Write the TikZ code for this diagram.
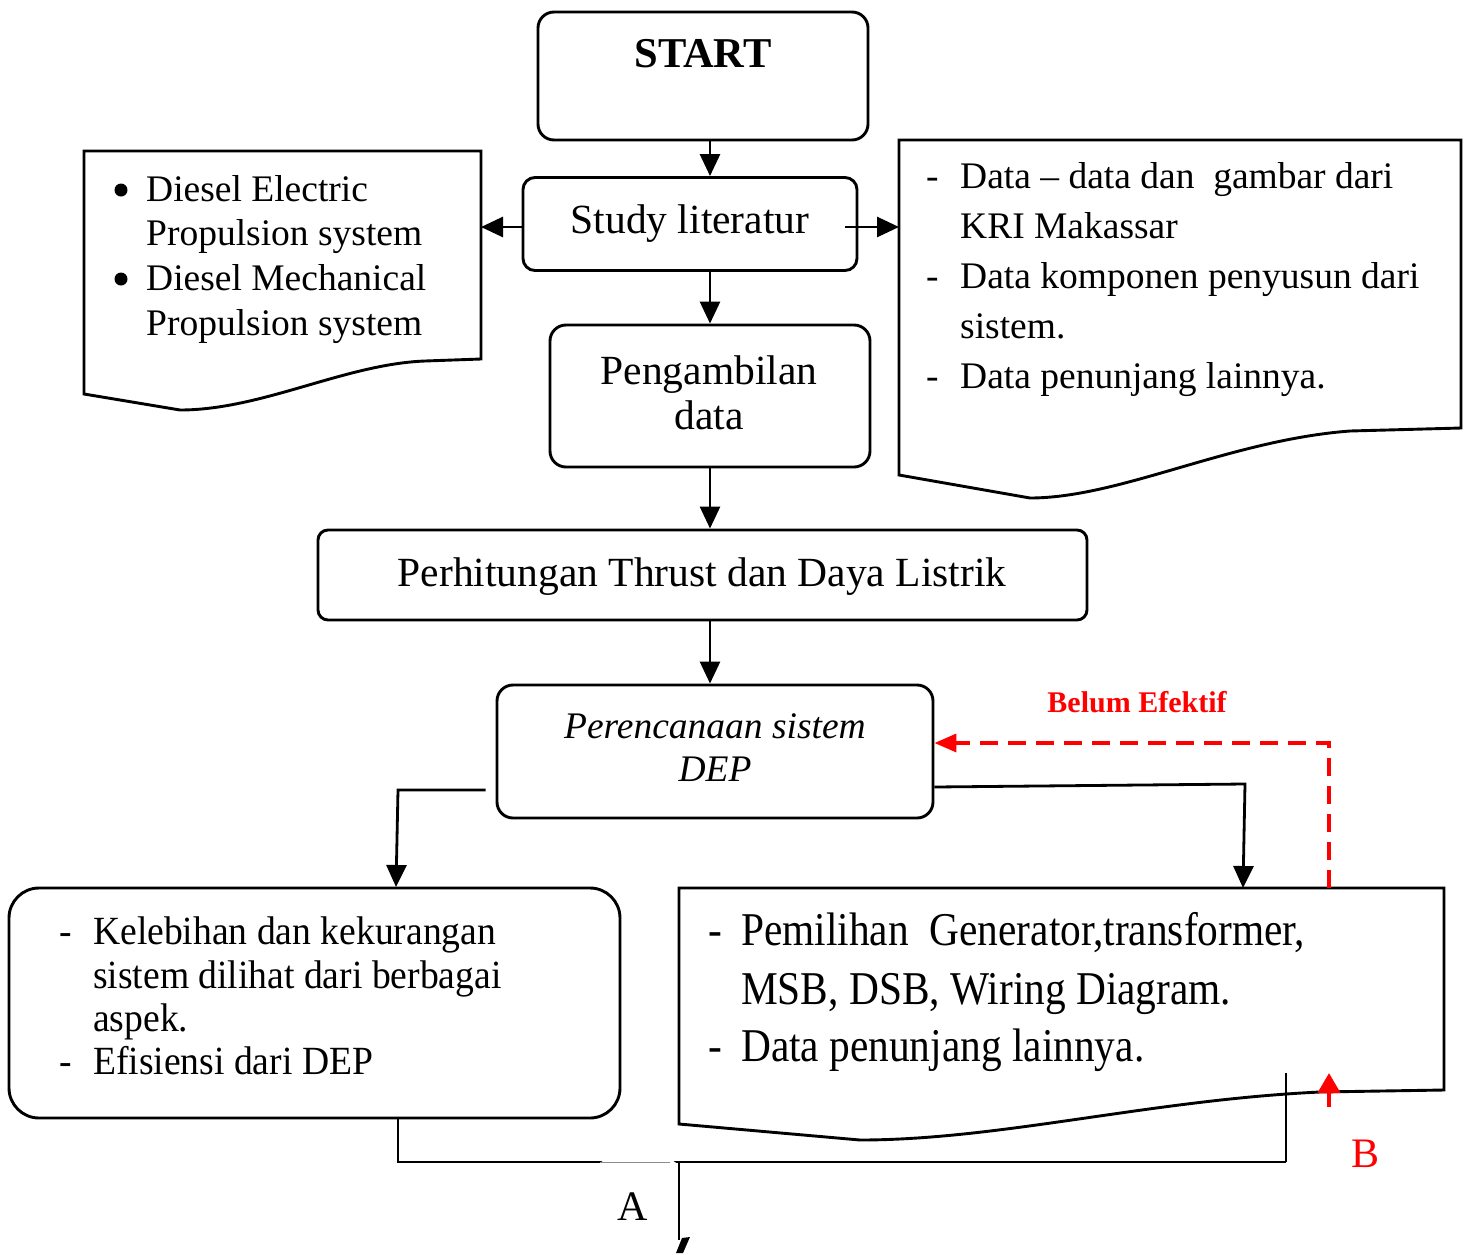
\documentclass[tikz,border=0pt]{standalone}
\usepackage{fontspec}
\setmainfont{Liberation Serif}
\newfontfamily\narrowserif[FakeStretch=0.94]{Liberation Serif}
\newfontfamily\tallserif[FakeStretch=0.88]{Liberation Serif}
\usetikzlibrary{arrows.meta,calc}

\begin{document}
\begin{tikzpicture}[x=1pt,y=-1pt,
  rbox/.style={draw=black, line width=2.9pt, rounded corners=#1, rectangle, inner sep=0pt},
  docline/.style={draw=black, line width=2.9pt, line join=miter},
  arr/.style={line width=2.8pt, -{Triangle[length=22pt,width=20pt]}},
  wire/.style={line width=2.8pt},
  thinwire/.style={line width=1.7pt},
  ctr/.style={inner sep=0pt, anchor=base},
  lft/.style={inner sep=0pt, anchor=base west},
  big/.style={font=\fontsize{41.5}{48}\selectfont},
  mid/.style={font=\fontsize{37.5}{44}\selectfont},
  slant/.style={font=\itshape\fontsize{37.5}{44}\selectfont},
  narrow/.style={font=\narrowserif\fontsize{40}{48}\selectfont},
  tall/.style={font=\tallserif\fontsize{47}{56}\selectfont},
  dot/.style={circle, fill=black, inner sep=0pt, minimum size=13pt},
  redarr/.style={draw=red, line width=3.5pt, dash pattern=on 18pt off 10pt,
    -{Triangle[length=22pt,width=18pt]}},
]
\useasboundingbox (0,0) rectangle (1468,1254);

% ---- main process boxes ----
\node[rbox=16pt, minimum width=330pt, minimum height=128pt] (start) at (703,76) {};
\node[ctr, font=\bfseries\fontsize{42.5}{48}\selectfont] (starttxt) at (703,67) {START};

\node[rbox=12pt, minimum width=334pt, minimum height=93pt] (study) at (690,224) {};
\node[ctr, big] (studytxt) at (690,233) {Study literatur};

\node[rbox=16pt, minimum width=320pt, minimum height=142pt] (ambil) at (710,396) {};
\node[ctr, big] (ambil1) at (709,384) {Pengambilan};
\node[ctr, big] (ambil2) at (709,429) {data};

\node[rbox=10pt, minimum width=769pt, minimum height=90pt] (hitung) at (702.5,575) {};
\node[ctr, big] (hitungtxt) at (702,586) {Perhitungan Thrust dan Daya Listrik};

\node[rbox=16pt, minimum width=436pt, minimum height=133pt] (rencana) at (715,751.5) {};
\node[ctr, slant] (rencana1) at (715,738) {Perencanaan sistem};
\node[ctr, slant] (rencana2) at (715,781) {DEP};

\node[rbox=30pt, minimum width=611pt, minimum height=230pt] (lebih) at (314.5,1003) {};
\node[lft, narrow] (l1d) at (59,944) {-};
\node[lft, narrow] (l1) at (93,944) {Kelebihan dan kekurangan};
\node[lft, narrow] (l2) at (93,988) {sistem dilihat dari berbagai};
\node[lft, narrow] (l3) at (93,1031) {aspek.};
\node[lft, narrow] (l4d) at (59,1074) {-};
\node[lft, narrow] (l4) at (93,1074) {Efisiensi dari DEP};

% ---- document shapes ----
\draw[docline] (84,151) -- (481,151) -- (481,359) -- (425,361)
  .. controls (345,364) and (262,410) .. (180,410) -- (84,394) -- cycle;
\coordinate (ldocR) at (481,227);
\node[dot] (b1) at (121,190) {};
\node[lft, mid] (d1) at (146,201) {Diesel Electric};
\node[lft, mid] (d2) at (146,245) {Propulsion system};
\node[dot] (b2) at (121,279) {};
\node[lft, mid] (d3) at (146,290) {Diesel Mechanical};
\node[lft, mid] (d4) at (146,335) {Propulsion system};

\draw[docline] (899,140) -- (1461,140) -- (1461,428) -- (1350,431)
  .. controls (1230,440) and (1120,498) .. (1030,498) -- (899,475) -- cycle;
\coordinate (rdocL) at (899,227);
\node[lft, mid] (r1d) at (926,188) {-};
\node[lft, mid] (r1) at (960,188) {Data -- data dan\ \ gambar dari};
\node[lft, mid] (r2) at (960,238) {KRI Makassar};
\node[lft, mid] (r3d) at (926,288) {-};
\node[lft, mid] (r3) at (960,288) {Data komponen penyusun dari};
\node[lft, mid] (r4) at (960,338) {sistem.};
\node[lft, mid] (r5d) at (926,388) {-};
\node[lft, mid] (r5) at (960,388) {Data penunjang lainnya.};

\draw[docline] (679,888) -- (1444,888) -- (1444,1090) -- (1320,1092)
  .. controls (1150,1100) and (1000,1140) .. (860,1140) -- (679,1124) -- cycle;
\coordinate (bdocT) at (1243,888);
\coordinate (bdocR) at (1329,888);
\node[lft, tall] (p1d) at (708,945) {-};
\node[lft, tall] (p1) at (741,945) {Pemilihan\ \ Generator,transformer,};
\node[lft, tall] (p2) at (741,1004) {MSB, DSB, Wiring Diagram.};
\node[lft, tall] (p3d) at (708,1061) {-};
\node[lft, tall] (p3) at (741,1061) {Data penunjang lainnya.};

% ---- connectors ----
\draw[arr] (start.south -| ambil.north) -- (study.north -| ambil.north);
\draw[arr] (study.south -| ambil.north) -- (ambil.north);
\draw[arr] (study.west |- ldocR) -- (ldocR);
\draw[arr] ([xshift=-13pt]study.east |- rdocL) -- (rdocL);
\draw[arr] (ambil.south) -- (hitung.north -| ambil.south);
\draw[arr] (hitung.south -| ambil.south) -- (rencana.north -| ambil.south);

\coordinate (lturn) at (398,790);
\coordinate (lend) at (396,887);
\draw[arr] ($(rencana.west |- lturn)+(-10,0)$) -- (lturn) -- (lend);
\coordinate (rturn) at (1245,784);
\draw[arr] (rencana.east |- 0,787) -- (rturn) -- (bdocT);

% feedback loop
\coordinate (fb) at (1329,743);
\draw[redarr] (bdocR) -- (fb) -- (rencana.east |- fb);
\node[ctr, text=red, font=\bfseries\fontsize{30}{36}\selectfont] (belum) at (1137,712) {Belum Efektif};

% joining line below the two result boxes
\coordinate (join) at (1286,1162);
\coordinate (jtop) at (1286,1073);
\draw[wire, line join=miter] (lturn |- lebih.south) -- (lturn |- join) -- (join);
\draw[thinwire] (join) -- (jtop);

% off-page connector A
\node[fill=white, rounded corners=10pt, minimum width=82pt, minimum height=110pt, inner sep=0pt] (abox) at (638,1215) {};
\draw[draw=black!45, line width=0.8pt] (600,1162) -- (670,1162);
\coordinate (adown) at (679,1240);
\draw[thinwire] (join -| adown) -- (adown);
\fill (676,1253) -- (682,1238) -- (690,1237) -- (683,1253) -- cycle;
\node[ctr, font=\fontsize{42}{48}\selectfont] (atxt) at (633,1220) {A};

% return point B
\coordinate (bfoot) at (1329,1107);
\coordinate (btip) at (1329,1073);
\draw[red, line width=4pt, -{Triangle[length=20pt,width=22pt]}] (bfoot) -- (btip);
\node[ctr, text=red, font=\fontsize{42}{48}\selectfont] (btxt) at (1365,1167) {B};
\end{tikzpicture}
\end{document}
